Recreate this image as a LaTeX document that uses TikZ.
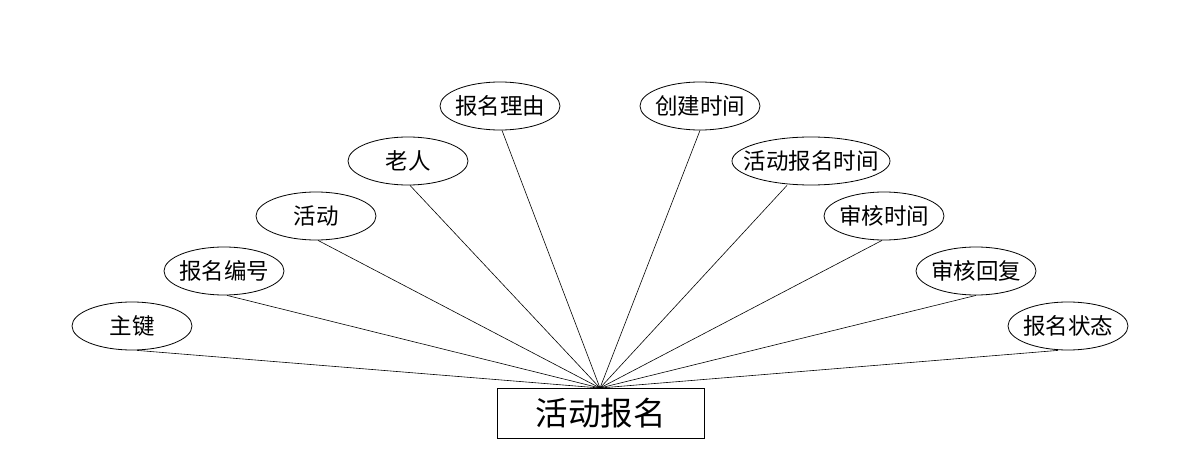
\documentclass[tikz,border=0pt]{standalone}
\usepackage{fontspec}
\newfontfamily\cjk{Noto Sans CJK SC}
\usetikzlibrary{shapes.geometric}
\newcommand{\zb}[1]{\makebox[0pt]{#1}}
\begin{document}
\begin{tikzpicture}[x=1pt,y=-1pt,
  attr/.style={draw,ellipse,line width=0.8pt,minimum width=120pt,minimum height=48pt,inner sep=0pt,font=\cjk\fontsize{22.5}{22.5}\selectfont},
  ent/.style={draw,rectangle,line width=0.8pt,minimum width=207pt,minimum height=50pt,inner sep=0pt,font=\cjk\fontsize{32.5}{32.5}\selectfont},
  link/.style={line width=0.6pt}]
\useasboundingbox (0,0) rectangle (1200,468);
\node[ent] (e) at (600.5,413) {\zb{活动报名}};
\coordinate (c) at (600,388);
\node[attr] (a1) at (132,326) {\zb{主键}};
\node[attr] (a2) at (224,271) {\zb{报名编号}};
\node[attr] (a3) at (316,216) {\zb{活动}};
\node[attr] (a4) at (408,161) {\zb{老人}};
\node[attr] (a5) at (500,106) {\zb{报名理由}};
\node[attr] (a6) at (700,106) {\zb{创建时间}};
\node[attr,minimum width=158pt] (a7) at (811,161) {\zb{活动报名时间}};
\node[attr] (a8) at (884,216) {\zb{审核时间}};
\node[attr] (a9) at (976,271) {\zb{审核回复}};
\node[attr] (a10) at (1068,326) {\zb{报名状态}};
\foreach \n/\dx in {a1/5,a2/3,a3/2,a4/2,a5/2,a6/0,a7/-24,a8/-2,a9/0,a10/-10}
  \draw[link] ([xshift=\dx pt]\n.south) -- (c);
\end{tikzpicture}
\end{document}
